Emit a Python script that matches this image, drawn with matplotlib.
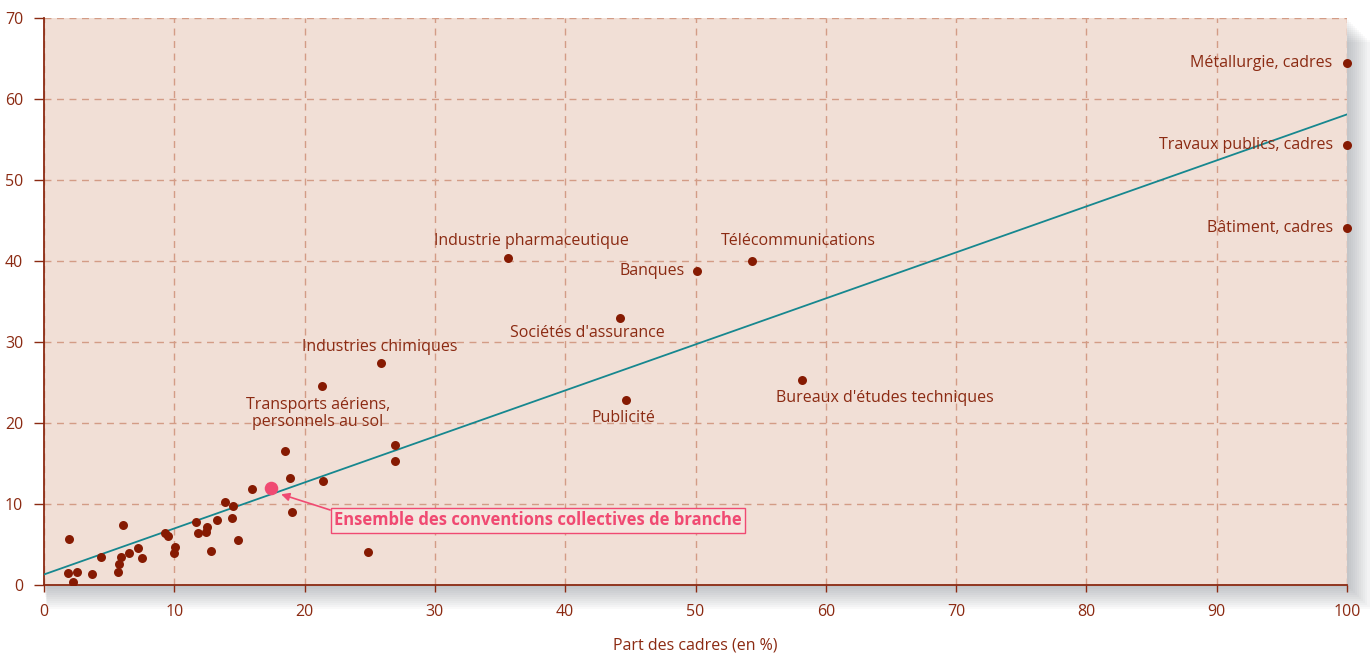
import matplotlib
matplotlib.use("Agg")
import matplotlib.pyplot as plt
from matplotlib.patches import Rectangle

# small (unlabelled) branches: part des cadres (%), y value
small_x = [1.95, 6.1, 1.87, 2.5, 2.25, 3.7, 4.4, 5.65, 5.75, 5.9, 6.5, 7.2, 7.5,
           9.3, 9.5, 10.05, 9.98, 11.7, 11.8, 12.5, 12.4, 13.25, 12.8, 13.9, 14.5,
           14.4, 14.9, 16.0, 18.5, 18.9, 19.0, 21.4, 24.9, 26.95, 26.9, 21.3, 25.9]
small_y = [5.7, 7.4, 1.5, 1.6, 0.4, 1.3, 3.4, 1.6, 2.6, 3.5, 4.0, 4.6, 3.3,
           6.4, 6.0, 4.7, 4.0, 7.8, 6.4, 7.1, 6.5, 8.0, 4.2, 10.2, 9.7,
           8.3, 5.6, 11.9, 16.5, 13.2, 9.0, 12.9, 4.1, 17.3, 15.3, 24.6, 27.4]

# labelled branches
named = ["Métallurgie, cadres", "Travaux publics, cadres", "Bâtiment, cadres",
         "Industrie pharmaceutique", "Télécommunications", "Banques",
         "Sociétés d'assurance", "Publicité", "Bureaux d'études techniques"]
named_x = [100, 100, 100, 35.6, 54.3, 50.1, 44.2, 44.7, 58.2]
named_y = [64.4, 54.3, 44.1, 40.4, 40.0, 38.8, 33.0, 22.8, 25.3]

# whole set of branch agreements
ens_x, ens_y = 17.45, 12.0

# regression line end points
fit_x = [0, 100]
fit_y = [1.3, 58.1]

xticks = list(range(0, 101, 10))
yticks = list(range(0, 71, 10))

TXT = "#8b2a12"
DOT = "#861a02"
BG = "#f1dfd6"
GRID = "#d39c86"
TEAL = "#16878f"
PINK = "#f04a72"

plt.rcParams["font.family"] = ["Open Sans", "DejaVu Sans"]

fig = plt.figure(figsize=(13.7, 6.55), dpi=100)
ax = fig.add_axes([44/1370, 70/655, 1303/1370, 567/655])

# drop shadow of the plot panel
for i in range(12):
    fig.patches.append(Rectangle((44/1370 + i*0.0002, 70/655 - (i+1)*2/655),
                                 1303/1370 + (i+1)*1.8/1370, 567/655,
                                 transform=fig.transFigure, facecolor="#606870",
                                 edgecolor="none", alpha=0.035, zorder=-1))

ax.set_facecolor(BG)
ax.set_xlim(0, 100)
ax.set_ylim(0, 70)
ax.set_xticks(xticks)
ax.set_yticks(yticks)
ax.grid(True, color=GRID, ls=(0, (5, 4)), lw=1.0)
ax.set_axisbelow(True)
for s in ["top", "right"]:
    ax.spines[s].set_visible(False)
for s in ["left", "bottom"]:
    ax.spines[s].set_color(TXT)
    ax.spines[s].set_linewidth(1.3)
ax.tick_params(axis="both", colors=TXT, labelsize=11.5, width=1.0)
ax.tick_params(axis="y", length=7, pad=8)
ax.tick_params(axis="x", length=5, pad=9)
ax.set_xlabel("Part des cadres (en %)", color=TXT, fontsize=11.5, labelpad=12)

ax.plot(fit_x, fit_y, color=TEAL, lw=1.3, zorder=3)
ax.scatter(small_x, small_y, s=42, color=DOT, zorder=4, lw=0)
ax.scatter(named_x, named_y, s=42, color=DOT, zorder=4, lw=0, clip_on=False)
ax.scatter([ens_x], [ens_y], s=95, color=PINK, zorder=5, lw=0)

lab_kw = dict(color=TXT, fontsize=11.5, zorder=6)
for i in range(3):
    ax.text(named_x[i] - 1.1, named_y[i], named[i], ha="right", va="center", **lab_kw)
ax.text(37.4, 42.5, named[3], ha="center", va="center", **lab_kw)
ax.text(57.9, 42.5, named[4], ha="center", va="center", **lab_kw)
ax.text(49.2, 38.8, named[5], ha="right", va="center", **lab_kw)
ax.text(41.7, 31.1, named[6], ha="center", va="center", **lab_kw)
ax.text(44.5, 20.6, named[7], ha="center", va="center", **lab_kw)
ax.text(64.5, 23.1, named[8], ha="center", va="center", **lab_kw)
ax.text(25.8, 29.4, "Industries chimiques", ha="center", va="center", **lab_kw)
ax.text(21.0, 21.2, "Transports aériens,\npersonnels au sol", ha="center",
        va="center", linespacing=1.1, **lab_kw)

ax.annotate("Ensemble des conventions collectives de branche",
            xy=(18.2, 11.2), xytext=(37.9, 8.0), ha="center", va="center",
            color=PINK, fontsize=12, fontweight="bold", zorder=7,
            bbox=dict(boxstyle="square,pad=0.2", facecolor="#f5e6df", edgecolor=PINK, lw=1.0),
            arrowprops=dict(arrowstyle="-|>", color=PINK, lw=1.2, relpos=(0, 1),
                            mutation_scale=12, shrinkA=0, shrinkB=0))

fig.savefig("out.png", dpi=100, facecolor="white")
